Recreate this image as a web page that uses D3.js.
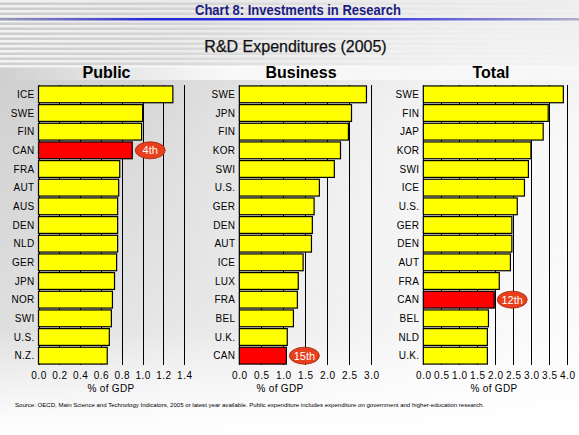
<!DOCTYPE html>
<html>
<head>
<meta charset="utf-8">
<script src="https://cdn.jsdelivr.net/npm/d3@7"></script>
<style>
  html, body { margin: 0; padding: 0; background: #fff; }
  svg { display: block; font-family: "Liberation Sans", Arial, sans-serif; }
</style>
</head>
<body>
<svg id="chart" width="579" height="435"></svg>
<script>
// ---------- DATA ----------
const publicCategories = ["ICE","SWE","FIN","CAN","FRA","AUT","AUS","DEN","NLD","GER","JPN","NOR","SWI","U.S.","N.Z."];
const publicValues     = [1.29, 1.00, 0.99, 0.90, 0.78, 0.77, 0.76, 0.76, 0.76, 0.75, 0.73, 0.71, 0.70, 0.68, 0.66];
const publicTicks      = [0, 0.2, 0.4, 0.6, 0.8, 1.0, 1.2, 1.4];

const businessCategories = ["SWE","JPN","FIN","KOR","SWI","U.S.","GER","DEN","AUT","ICE","LUX","FRA","BEL","U.K.","CAN"];
const businessValues     = [2.89, 2.55, 2.48, 2.30, 2.16, 1.82, 1.70, 1.66, 1.64, 1.45, 1.34, 1.32, 1.23, 1.09, 1.07];
const businessTicks      = [0, 0.5, 1.0, 1.5, 2.0, 2.5, 3.0];

const totalCategories = ["SWE","FIN","JAP","KOR","SWI","ICE","U.S.","GER","DEN","AUT","FRA","CAN","BEL","NLD","U.K."];
const totalValues     = [3.89, 3.47, 3.33, 2.99, 2.92, 2.81, 2.61, 2.46, 2.46, 2.42, 2.11, 1.97, 1.81, 1.78, 1.78];
const totalTicks      = [0, 0.5, 1.0, 1.5, 2.0, 2.5, 3.0, 3.5, 4.0];

const highlight = "CAN";
const rankLabels = { Public: "4th", Business: "15th", Total: "12th" };

const mainTitle = "Chart 8: Investments in Research";
const subTitle = "R&D Expenditures (2005)";
const axisTitle = "% of GDP";
const sourceText = "Source: OECD, Main Science and Technology Indicators, 2005 or latest year available. Public expenditure includes expenditure on government and higher-education research.";

// ---------- DRAW ----------
const svg = d3.select("#chart");
const W = 579, H = 435;
const defs = svg.append("defs");

// background gradient
const bg = defs.append("linearGradient").attr("id","bg").attr("x1","0").attr("y1","0").attr("x2","1").attr("y2","1");
bg.append("stop").attr("offset","0").attr("stop-color","#cbcbcb");
bg.append("stop").attr("offset","0.45").attr("stop-color","#e3e3e3");
bg.append("stop").attr("offset","0.8").attr("stop-color","#f7f7f7");
bg.append("stop").attr("offset","1").attr("stop-color","#ffffff");
svg.append("rect").attr("width",W).attr("height",H).attr("fill","url(#bg)");

// right-side lighter glow
const glow = defs.append("radialGradient").attr("id","glow").attr("cx","0.85").attr("cy","0.35").attr("r","0.6");
glow.append("stop").attr("offset","0").attr("stop-color","#ffffff").attr("stop-opacity",0.7);
glow.append("stop").attr("offset","1").attr("stop-color","#ffffff").attr("stop-opacity",0);
svg.append("rect").attr("width",W).attr("height",H).attr("fill","url(#glow)");

// bottom white fade
const bottomFade = defs.append("linearGradient").attr("id","bfade").attr("x1","0").attr("y1","0").attr("x2","0").attr("y2","1");
bottomFade.append("stop").attr("offset","0").attr("stop-color","#fff").attr("stop-opacity",0);
bottomFade.append("stop").attr("offset","1").attr("stop-color","#fff").attr("stop-opacity",1);
svg.append("rect").attr("y",330).attr("width",W).attr("height",105).attr("fill","url(#bfade)");

// header stripes
const stripeFade = defs.append("linearGradient").attr("id","sfade").attr("x1","0").attr("y1","0").attr("x2","1").attr("y2","0");
stripeFade.append("stop").attr("offset","0").attr("stop-color","#ffffff").attr("stop-opacity",0.75);
stripeFade.append("stop").attr("offset","0.55").attr("stop-color","#ffffff").attr("stop-opacity",0.35);
stripeFade.append("stop").attr("offset","1").attr("stop-color","#ffffff").attr("stop-opacity",0.1);
const stripeRows = d3.range(0, 66, 5);
svg.append("g").selectAll("rect").data(stripeRows).join("rect")
  .attr("x",0).attr("y",d=>d).attr("width",W).attr("height",2.5)
  .attr("fill","url(#sfade)");

// white band behind panel titles
const band = defs.append("linearGradient").attr("id","band").attr("x1","0").attr("y1","0").attr("x2","1").attr("y2","0");
band.append("stop").attr("offset","0").attr("stop-color","#fff").attr("stop-opacity",0);
band.append("stop").attr("offset","0.4").attr("stop-color","#fff").attr("stop-opacity",0.8);
band.append("stop").attr("offset","1").attr("stop-color","#fff").attr("stop-opacity",0.3);
svg.append("rect").attr("x",0).attr("y",66).attr("width",W).attr("height",14).attr("fill","url(#band)");

// blue rule under title
const rule = defs.append("linearGradient").attr("id","rule").attr("x1","0").attr("y1","0").attr("x2","1").attr("y2","0");
rule.append("stop").attr("offset","0").attr("stop-color","#9a9ab8");
rule.append("stop").attr("offset","0.25").attr("stop-color","#2a2ad8");
rule.append("stop").attr("offset","0.6").attr("stop-color","#2a2ae0");
rule.append("stop").attr("offset","1").attr("stop-color","#b0b0c8");
svg.append("rect").attr("x",0).attr("y",18).attr("width",W).attr("height",2.5).attr("fill","url(#rule)");

// titles
svg.append("text").attr("x",195).attr("y",15).attr("textLength",206).attr("lengthAdjust","spacingAndGlyphs")
  .attr("font-size",15).attr("font-weight","bold").attr("fill","#1b1b80").text(mainTitle);
svg.append("text").attr("x",295.5).attr("y",52.3).attr("text-anchor","middle")
  .attr("font-size",16).attr("fill","#111").attr("stroke","#111").attr("stroke-width",0.25).text(subTitle);

// panels
const yRange = [85, 365];
const panels = [
  { name:"Public",   cats:publicCategories,   vals:publicValues,   ticks:publicTicks,   x0:38.5,  x1:184.3, titleX:106.5, axisX:111, fmt:d3.format(".1f") },
  { name:"Business", cats:businessCategories, vals:businessValues, ticks:businessTicks, x0:239.3, x1:371.3, titleX:301,   axisX:280, fmt:d3.format(".1f") },
  { name:"Total",    cats:totalCategories,    vals:totalValues,    ticks:totalTicks,    x0:423.3, x1:567.3, titleX:491,   axisX:494, fmt:d3.format(".1f") }
];

panels.forEach(p => {
  const g = svg.append("g");
  const x = d3.scaleLinear().domain([p.ticks[0], p.ticks[p.ticks.length-1]]).range([p.x0, p.x1]);
  const y = d3.scaleBand().domain(p.cats).range(yRange).paddingInner(0.1).paddingOuter(0.05);
  const data = p.cats.map((c,i)=>({cat:c, val:p.vals[i]}));

  g.append("text").attr("x",p.titleX).attr("y",77.7).attr("text-anchor","middle")
    .attr("font-size",16).attr("font-weight","bold").attr("fill","#000").text(p.name);

  // gridlines
  g.append("g").selectAll("line").data(p.ticks).join("line")
    .attr("x1",d=>Math.round(x(d))+0.5).attr("x2",d=>Math.round(x(d))+0.5)
    .attr("y1",yRange[0]).attr("y2",yRange[1])
    .attr("stroke","#000").attr("stroke-width",1);

  // bars
  g.append("g").selectAll("rect").data(data).join("rect")
    .attr("x",x(0)).attr("y",d=>y(d.cat))
    .attr("width",d=>x(d.val)-x(0)).attr("height",y.bandwidth())
    .attr("fill",d=>d.cat===highlight ? "#ff0000" : "#ffff00")
    .attr("stroke","#000").attr("stroke-width",1.2);

  // category labels
  g.append("g").selectAll("text").data(data).join("text")
    .attr("x",x(0)-4).attr("y",d=>y(d.cat)+y.bandwidth()/2).attr("dy","0.35em")
    .attr("text-anchor","end").attr("font-size",10).attr("letter-spacing",0.3).attr("fill","#000")
    .text(d=>d.cat);

  // tick labels
  const axis = d3.axisBottom(x).tickValues(p.ticks).tickFormat(p.fmt).tickSize(0).tickPadding(0);
  const ag = g.append("g").attr("transform",`translate(0,${372})`).call(axis);
  ag.select(".domain").remove();
  ag.selectAll("text").attr("font-size",10).attr("font-family","'Liberation Sans', Arial, sans-serif")
    .attr("letter-spacing",0.5).attr("fill","#000").attr("dy","0.71em");

  g.append("text").attr("x",p.axisX).attr("y",392).attr("text-anchor","middle")
    .attr("font-size",10).attr("letter-spacing",0.3).attr("fill","#000").text(axisTitle);

  // rank bubble
  const hi = data.find(d=>d.cat===highlight);
  const cx = x(hi.val) + 18, cy = y(hi.cat) + y.bandwidth()/2;
  g.append("ellipse").attr("cx",cx).attr("cy",cy).attr("rx",15).attr("ry",8.5)
    .attr("fill","#e8401c").attr("stroke","#a02010").attr("stroke-width",0.8);
  g.append("text").attr("x",cx).attr("y",cy).attr("dy","0.36em").attr("text-anchor","middle")
    .attr("font-size",11).attr("fill","#fff").text(rankLabels[p.name]);
});

// source
svg.append("text").attr("x",15).attr("y",407).attr("textLength",469).attr("lengthAdjust","spacingAndGlyphs")
  .attr("font-size",5.5).attr("fill","#000").text(sourceText);
</script>
</body>
</html>
